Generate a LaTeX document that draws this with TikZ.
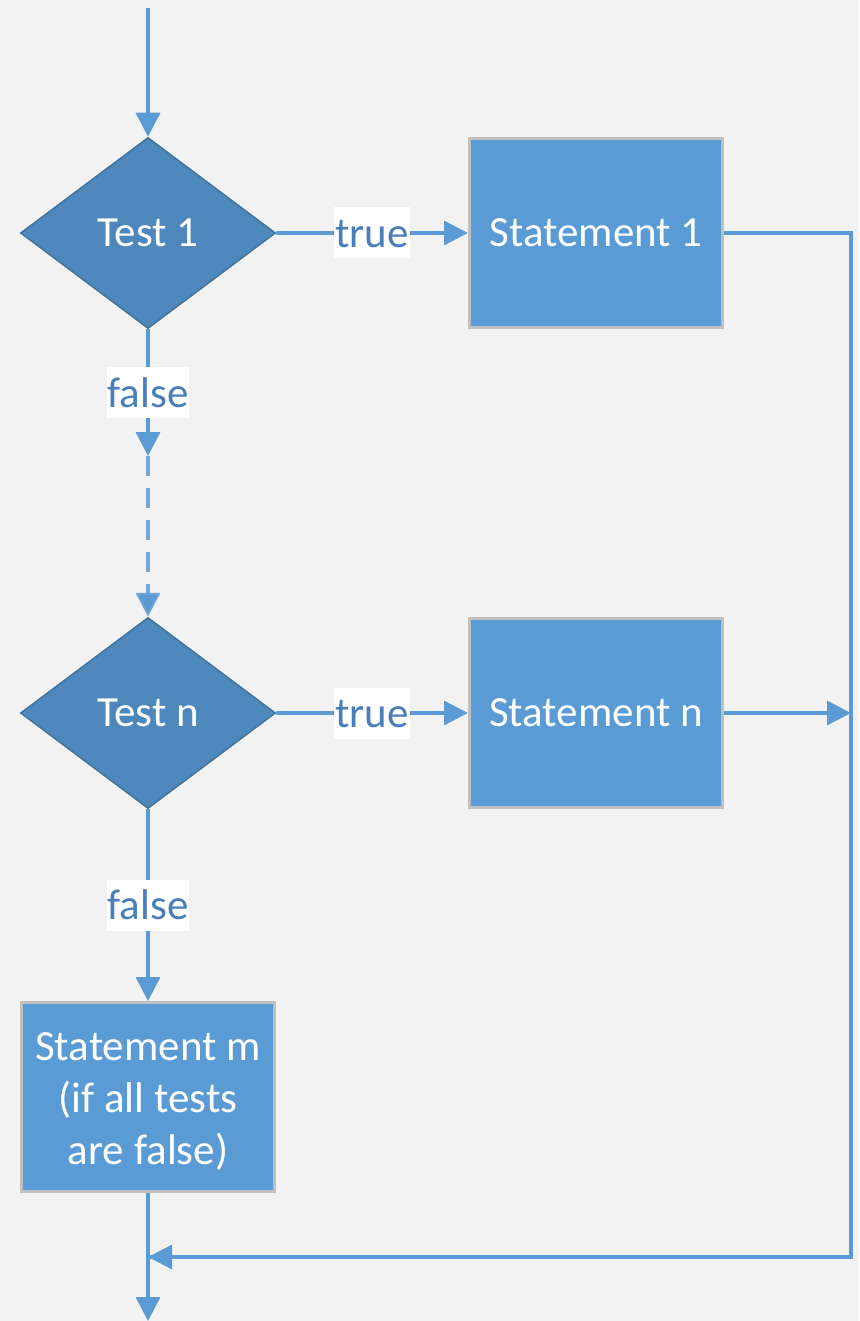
\documentclass[tikz,border=0pt]{standalone}
\usepackage{fontspec}
\setmainfont{Carlito}
\usetikzlibrary{shapes.geometric,arrows.meta}
\definecolor{bgc}{HTML}{F2F2F2}
\definecolor{dfill}{HTML}{4E87BB}
\definecolor{dline}{HTML}{41719C}
\definecolor{bfill}{HTML}{5B9BD5}
\definecolor{bline}{HTML}{BFBFBF}
\definecolor{lnc}{HTML}{5B9BD5}
\definecolor{lblc}{HTML}{4A7EBB}
\tikzset{
  test/.style={diamond, aspect=1.3333, fill=dfill, draw=dline, line width=1.5pt,
    minimum width=255pt, minimum height=191pt, inner sep=0pt, text=white,
    font=\fontsize{43}{50}\selectfont},
  stmt/.style={rectangle, fill=bfill, draw=bline, line width=3pt,
    minimum width=253pt, minimum height=189pt, inner sep=0pt, text=white,
    align=center, font=\fontsize{43}{52}\selectfont},
  arr/.style={draw=lnc, line width=3.5pt, -{Triangle[length=24pt,width=24pt]}},
  conn/.style={draw=lnc, line width=3.5pt},
  lbl/.style={fill=white, text=lblc, inner xsep=1pt, inner ysep=5pt,
    text height=35pt, text depth=6pt, font=\fontsize{43}{50}\selectfont},
}
\begin{document}
\begin{tikzpicture}[x=1pt,y=-1pt]
\fill[bgc] (0,0) rectangle (859,1321);
\useasboundingbox (0,0) rectangle (859,1321);

\node[test] (d1) at (148,233) {Test 1};
\node[stmt] (s1) at (596,233) {Statement 1};
\node[test] (d2) at (148,713) {Test n};
\node[stmt] (s2) at (596,713) {Statement n};
\node[stmt] (sm) at (148,1097) {\strut\smash{}Statement m\\(if all tests\\are false)};

\coordinate (top) at (148,8);
\coordinate (c1) at (148,456);
\coordinate (r1) at (851,233);
\coordinate (rn) at (851,713);
\coordinate (r2) at (851,1257);
\coordinate (m) at (148,1257);
\coordinate (bot) at (148,1321);

\draw[arr] (top) -- (d1.north);
\draw[arr] (d1.east) -- node[lbl] {true} (s1.west);
\draw[arr] (d1.south) -- node[lbl] {false} (c1);
\draw[arr, dash pattern=on 20pt off 12pt, draw opacity=0.85] (c1) -- (d2.north);
\draw[arr] (d2.east) -- node[lbl] {true} (s2.west);
\draw[arr] (d2.south) -- node[lbl] {false} (sm.north);
\draw[conn, line join=miter] (s1.east) -- (r1) -- (r2) -- (m);
\draw[arr] (r2) -- (m);
\draw[arr] (s2.east) -- (rn);
\draw[arr] (sm.south) -- (bot);
\end{tikzpicture}
\end{document}
